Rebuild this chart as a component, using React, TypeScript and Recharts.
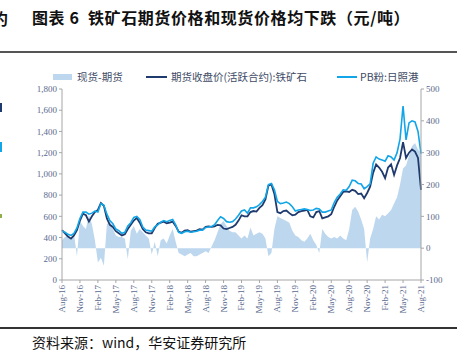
import React from 'react';
import { ComposedChart, Area, Line, XAxis, YAxis } from 'recharts';

// Semi-monthly observations, Aug-2016 .. Aug-2021 (121 points)
const futures: number[] = [
  470, 440, 410, 390, 420, 470, 560, 625, 610, 550, 600, 640,
  660, 725, 700, 580, 520, 500, 460, 440, 420, 430, 480, 520,
  560, 585, 540, 480, 450, 440, 440, 490, 530, 540, 550, 535,
  540, 550, 510, 455, 445, 465, 470, 455, 460, 465, 480, 475,
  500, 505, 500, 505, 520, 515, 485, 480, 490, 500, 520, 560,
  610, 600, 600, 640, 650, 645, 680, 705, 760, 890, 900, 810,
  640, 630, 650, 655, 630, 610, 615, 640, 650, 655, 660, 600,
  590, 640, 650, 580, 590, 600, 620, 690, 750, 790, 830, 835,
  830, 850, 840, 810, 815, 770, 820, 880, 1010, 1090, 1060, 1020,
  960, 1060, 1090, 990, 1080, 1150, 1300, 1150, 1200, 1230, 1210, 1150,
  850,
];

const pbFines: number[] = [
  460, 450, 430, 420, 440, 490, 580, 640, 640, 620, 630, 650,
  640, 720, 705, 620, 560, 530, 480, 465, 440, 450, 510, 540,
  590, 600, 570, 500, 470, 465, 460, 500, 520, 545, 560, 550,
  560, 570, 520, 450, 440, 455, 460, 450, 455, 460, 470, 470,
  495, 500, 505, 520, 560, 595, 580, 550, 545, 550, 575, 610,
  650, 660, 630, 680, 680, 690, 710, 740, 780, 900, 910, 850,
  740, 720, 725, 735, 720, 690, 650, 660, 665, 670, 665, 655,
  660, 675, 670, 640, 640, 650, 660, 730, 780, 810, 850, 845,
  880, 940, 935, 910, 905, 860, 880, 905, 1100, 1160, 1140, 1130,
  1120, 1170, 1160, 1130, 1200, 1330, 1640, 1320, 1480, 1500, 1490, 1400,
  1190,
];

const spread: number[] = [
  25, 35, 40, 30, 45, -25, 85, 70, 60, 105, 75, 25,
  -45, -30, -55, 75, 85, 60, 40, 35, 35, 30, -35, 55,
  70, 45, 60, 50, 40, 30, -20, 20, -25, 25, 30, 15,
  40, 60, 20, -15, -20, -25, -20, -15, -25, -25, -20, -15,
  -10, -15, 5, 25, 50, 75, 85, 70, 55, 50, 50, 40,
  30, 40, 30, 65, 40, 45, 50, 45, 30, -25, -15, 60,
  100, 95, 90, 85, 80, 55, 40, 35, 25, 20, 30, 45,
  25, 10, -15, 60, 45, 35, 30, 35, 30, 40, 30, 25,
  60, 120, 130, 115, 90, 60, -45, 30, 60, 100, 90, 105,
  100, 110, 120, 140, 160, 200, 250, 260, 290, 320, 330, 310,
  300,
];

const tickLabels: string[] = [
  'Aug-16', 'Nov-16', 'Feb-17', 'May-17', 'Aug-17', 'Nov-17', 'Feb-18',
  'May-18', 'Aug-18', 'Nov-18', 'Feb-19', 'May-19', 'Aug-19', 'Nov-19',
  'Feb-20', 'May-20', 'Aug-20', 'Nov-20', 'Feb-21', 'May-21', 'Aug-21',
];

const leftTicks: number[] = [0, 200, 400, 600, 800, 1000, 1200, 1400, 1600, 1800];
const rightTicks: number[] = [-100, 0, 100, 200, 300, 400, 500];

const seriesNames = ['现货-期货', '期货收盘价(活跃合约):铁矿石', 'PB粉:日照港'];
const title = '图表 6  铁矿石期货价格和现货价格均下跌（元/吨）';
const source = '资料来源：wind，华安证券研究所';

const data = futures.map((f, i) => ({ i, futures: f, pb: pbFines[i], spread: spread[i] }));
const xTicks = tickLabels.map((_, k) => k * 6);

const C_AREA = '#BDD7EE';
const C_DARK = '#1F3B6E';
const C_LIGHT = '#12A5E8';
const C_AXIS = '#A6A6A6';
const C_TICK = '#5A6A8E';
const SERIF = '"Liberation Serif", "Times New Roman", "Noto Sans CJK SC", serif';
const CJK = '"Noto Sans CJK SC", "Liberation Serif", serif';

const XTick = (props: any) => {
  const { x, y, payload } = props;
  const label = tickLabels[Math.round(payload.value / 6)];
  return (
    <text
      x={x}
      y={y}
      transform={`rotate(-90, ${x}, ${y})`}
      textAnchor="end"
      dy="0.33em"
      fontSize={9}
      fill={C_TICK}
      fontFamily={SERIF}
    >
      {label}
    </text>
  );
};

export default function App() {
  return (
    <div style={{ position: 'absolute', left: 0, top: 0, width: 467, height: 362, background: '#fff', overflow: 'hidden' }}>
      {/* cut-off fragments from neighbouring column */}
      <div style={{ position: 'absolute', left: -8, top: 6, fontFamily: CJK, fontWeight: 700, fontSize: 16, color: '#111' }}>约</div>
      <div style={{ position: 'absolute', left: 0, top: 103, width: 2, height: 9, background: '#1F3B6E' }} />
      <div style={{ position: 'absolute', left: 0, top: 142, width: 2, height: 10, background: '#12A5E8' }} />
      <div style={{ position: 'absolute', left: 0, top: 214, width: 2, height: 4, background: '#8DB04A' }} />

      <div style={{ position: 'absolute', left: 32, top: 5, fontFamily: CJK, fontWeight: 700, fontSize: 16, color: '#111', whiteSpace: 'pre', letterSpacing: 0.6 }}>
        {title}
      </div>
      <div style={{ position: 'absolute', left: 0, top: 51, width: 457, height: 1.5, background: '#555' }} />

      {/* legend */}
      <div style={{ position: 'absolute', left: 53, top: 74, width: 19, height: 6, background: C_AREA }} />
      <div style={{ position: 'absolute', left: 77, top: 69, fontFamily: CJK, fontSize: 10.5, color: '#3E4B66', whiteSpace: 'pre' }}>{seriesNames[0]}</div>
      <div style={{ position: 'absolute', left: 146, top: 76, width: 21, height: 2, background: C_DARK }} />
      <div style={{ position: 'absolute', left: 171, top: 69, fontFamily: CJK, fontSize: 10.5, color: '#3E4B66', whiteSpace: 'pre' }}>{seriesNames[1]}</div>
      <div style={{ position: 'absolute', left: 337, top: 76, width: 20, height: 2, background: C_LIGHT }} />
      <div style={{ position: 'absolute', left: 360, top: 69, fontFamily: CJK, fontSize: 10.5, color: '#3E4B66', whiteSpace: 'pre' }}>{seriesNames[2]}</div>

      <div style={{ position: 'absolute', left: 0, top: 0 }}>
        <ComposedChart width={467} height={362} data={data} margin={{ top: 89, right: 0, bottom: 42, left: 12 }}>
          <XAxis
            dataKey="i"
            type="number"
            domain={[0, 120]}
            ticks={xTicks}
            interval={0}
            tick={<XTick />}
            tickSize={3}
            height={40}
            axisLine={{ stroke: C_AXIS }}
            tickLine={{ stroke: C_AXIS }}
          />
          <YAxis
            yAxisId="left"
            orientation="left"
            width={50}
            domain={[0, 1800]}
            ticks={leftTicks}
            interval={0}
            tickSize={3}
            tickFormatter={(v: number) => v.toLocaleString('en-US')}
            tick={{ fontSize: 9, fill: C_TICK, fontFamily: SERIF }}
            axisLine={{ stroke: C_AXIS }}
            tickLine={{ stroke: C_AXIS }}
          />
          <YAxis
            yAxisId="right"
            orientation="right"
            width={46}
            domain={[-100, 500]}
            ticks={rightTicks}
            interval={0}
            tickSize={3}
            tick={{ fontSize: 9, fill: C_TICK, fontFamily: SERIF }}
            axisLine={{ stroke: C_AXIS }}
            tickLine={{ stroke: C_AXIS }}
          />
          <Area
            yAxisId="right"
            dataKey="spread"
            type="linear"
            fill={C_AREA}
            fillOpacity={1}
            stroke="none"
            isAnimationActive={false}
          />
          <Line
            yAxisId="left"
            dataKey="futures"
            type="linear"
            stroke={C_DARK}
            strokeWidth={1.8}
            dot={false}
            isAnimationActive={false}
          />
          <Line
            yAxisId="left"
            dataKey="pb"
            type="linear"
            stroke={C_LIGHT}
            strokeWidth={1.6}
            dot={false}
            isAnimationActive={false}
          />
        </ComposedChart>
      </div>

      <div style={{ position: 'absolute', left: 0, top: 327, width: 457, height: 1.5, background: '#333' }} />
      <div style={{ position: 'absolute', left: 32, top: 332, fontFamily: CJK, fontSize: 14, color: '#111', whiteSpace: 'pre' }}>{source}</div>
    </div>
  );
}
